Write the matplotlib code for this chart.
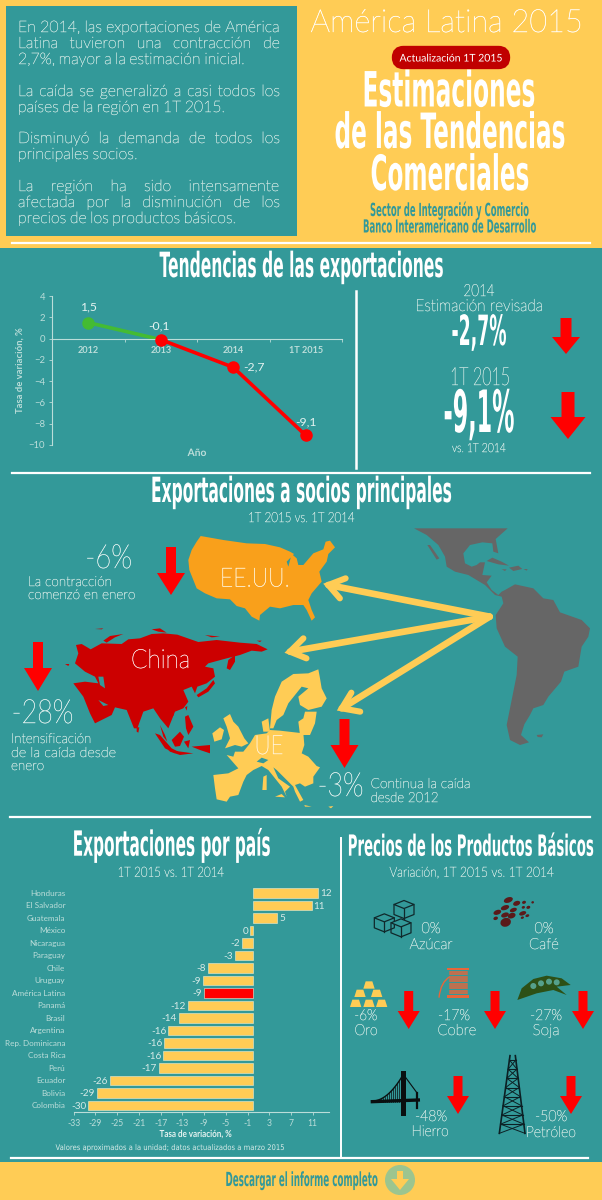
import numpy as np
import matplotlib
matplotlib.use("Agg")
import matplotlib.pyplot as plt
import matplotlib.patheffects as pe
from matplotlib.patches import Polygon, Ellipse, Circle, Rectangle, FancyBboxPatch
from matplotlib.path import Path
from matplotlib.patches import PathPatch
from matplotlib.transforms import Affine2D

YELLOW = "#FFCC55"
TEAL = "#339999"
PALE = "#BBDDD9"
RED = "#FF0000"

# line chart data
trend_labels = ["2012", "2013", "2014", "1T 2015"]
trend_values = [1.5, -0.1, -2.7, -9.1]
trend_text = ["1,5", "-0,1", "-2,7", "-9,1"]

# bars, exports by country
countries = ["Honduras", "El Salvador", "Guatemala", "México", "Nicaragua", "Paraguay", "Chile",
             "Uruguay", "América Latina", "Panamá", "Brasil", "Argentina", "Rep. Dominicana",
             "Costa Rica", "Perú", "Ecuador", "Bolivia", "Colombia"]
country_values = [12, 10.8, 4.5, -0.5, -2, -3.3, -8.3, -9.2, -9.1, -11.9, -13.7, -15.6, -16.3,
                  -16.5, -17.3, -26.3, -28.7, -30.3]
country_text = ["12", "11", "5", "0", "-2", "-3", "-8", "-9", "-9", "-12", "-14", "-16", "-16",
                "-16", "-17", "-26", "-29", "-30"]
bar_ticks = list(range(-33, 12, 4))

body_lines = [
    ("En 2014, las exportaciones de América", 27, True),
    ("Latina tuvieron una contracción de", 43, True),
    ("2,7%, mayor a la estimación inicial.", 59, False),
    ("La caída se generalizó a casi todos los", 91, True),
    ("países de la región en 1T 2015.", 107, False),
    ("Disminuyó la demanda de todos los", 138, True),
    ("principales socios.", 154, False),
    ("La región ha sido intensamente", 186, True),
    ("afectada por la disminución de los", 202, True),
    ("precios de los productos básicos.", 218, False),
]

fig = plt.figure(figsize=(6.02, 12), dpi=100, facecolor=TEAL)
ax = fig.add_axes([0, 0, 1, 1])
ax.set_xlim(0, 602)
ax.set_ylim(1200, 0)
ax.axis("off")
renderer = fig.canvas.get_renderer()


class Stretch(pe.AbstractPathEffect):
    # the reference uses a condensed poster font, so the text is set small and pulled up
    def __init__(self, sy, stroke=0):
        super().__init__()
        self.sy = sy
        self.stroke = stroke

    def draw_path(self, renderer, gc, tpath, affine, rgbFace=None):
        if self.stroke:
            gc.set_foreground(rgbFace)
            gc.set_linewidth(self.stroke)
        renderer.draw_path(gc, tpath, Affine2D().scale(1, self.sy) + affine, rgbFace)


def put(x, y, s, size, width=None, color=PALE, font="Lato", weight="light", ha="center", zorder=6):
    t = ax.text(x, y, s, fontsize=size, color=color, family=font, weight=weight,
                ha="left", va="baseline", zorder=zorder)
    w = t.get_window_extent(renderer).width
    target = width if width else w
    t.set_fontsize(size * target / w)
    t.set_path_effects([Stretch(w / target, 0.28 if weight == "light" else 0)])
    t.set_x(x - target / 2 if ha == "center" else x)
    return t


def title(x, y, s, size, width, color="white"):
    return put(x, y, s, size, width, color, "Liberation Sans Narrow", "bold")


def red_arrow(x, top, neck, tip, shaft, head):
    pts = [(x - shaft / 2, top), (x + shaft / 2, top), (x + shaft / 2, neck), (x + head / 2, neck),
           (x, tip), (x - head / 2, neck), (x - shaft / 2, neck)]
    ax.add_patch(Polygon(pts, closed=True, fc=RED, ec="none", zorder=5))


def m3(pts):
    return [(a / 2.604, 470 + b / 3) for a, b in pts]


def z5(pts):
    return [(340 + a / 3, 825 + b / 3) for a, b in pts]


def shape(ox, oy, pts, color, z=3):
    # outlines were traced on 3x crops, ox/oy is the crop corner
    ax.add_patch(Polygon([(ox + a / 3, oy + b / 3) for a, b in pts], closed=True, fc=color, ec="none", zorder=z))


# backgrounds
ax.add_patch(Rectangle((0, 0), 602, 248, fc=YELLOW, ec="none"))
ax.add_patch(Rectangle((0, 1162), 602, 38, fc=YELLOW, ec="none"))
ax.add_patch(Rectangle((6, 6), 291, 230, fc=TEAL, ec="none"))
for x0, x1, y in [(12, 590, 243), (12, 590, 473), (10, 590, 817), (11, 588, 1158)]:
    ax.plot([x0, x1], [y, y], color="white", lw=1.6, zorder=2)
ax.plot([356, 356], [291, 468], color="white", lw=1.8, zorder=2)
ax.plot([341, 341], [838, 1158], color="white", lw=1.4, zorder=2)

# header, left box is justified so words go out one by one
for line, y, just in body_lines:
    words = line.split(" ")
    items = [put(0, y + 5, w, 11.4, ha="left") for w in words]
    widths = [i.get_window_extent(renderer).width for i in items]
    space = (262 - sum(widths)) / (len(words) - 1) if just else 3.4
    x = 18
    for i, w in zip(items, widths):
        i.set_x(x)
        x += w + space

put(447, 32, "América Latina 2015", 23, 273, "white")
ax.add_patch(FancyBboxPatch((396, 50), 110, 15, boxstyle="round,pad=0,rounding_size=7.5",
                            mutation_aspect=1, fc="#C00000", ec="#C00000", lw=6, zorder=3))
put(451, 61.5, "Actualización 1T 2015", 7.6, 103, "white", "Lato", "normal")
title(449, 106.5, "Estimaciones", 35, 173)
title(450, 148, "de las Tendencias", 35, 231)
title(450, 190, "Comerciales", 35, 159)
title(449, 216, "Sector de Integración y Comercio", 13, 158, TEAL)
title(449, 232.5, "Banco Interamericano de Desarrollo", 13, 172, TEAL)

# trend panel
title(301.5, 277, "Tendencias de las exportaciones", 25, 284)
ax1 = fig.add_axes([52 / 602, 1 - 445 / 1200, 290 / 602, 149 / 1200])
ax1.patch.set_alpha(0)
# setting the spine position resets ticks, so it goes first
ax1.spines["bottom"].set_position(("data", 0))
ax1.spines["bottom"].set_color(PALE)
ax1.spines["left"].set_color(PALE)
ax1.spines["top"].set_visible(False)
ax1.spines["right"].set_visible(False)
xs = np.arange(len(trend_values))
ax1.plot(xs[:2], trend_values[:2], color="#44BB33", lw=2.6, zorder=2)
ax1.plot(xs[1:], trend_values[1:], color=RED, lw=2.6, zorder=3)
ax1.plot(xs[:1], trend_values[:1], "o", color="#44BB33", ms=8, zorder=4)
ax1.plot(xs[1:], trend_values[1:], "o", color=RED, ms=8, zorder=4)
ax1.set_xlim(-0.5, 3.5)
ax1.set_ylim(-10, 4)
ax1.set_yticks(range(-10, 5, 2))
ax1.set_xticks(xs)
ax1.set_xticklabels(trend_labels)
ax1.set_xticks(np.arange(-0.5, 3.6, 1), minor=True)
ax1.tick_params(axis="x", which="major", length=0, pad=5)
ax1.tick_params(axis="x", which="minor", length=2, color=PALE, direction="out", width=0.6)
ax1.tick_params(axis="y", length=2, color=PALE, width=0.6, pad=3)
for lab in ax1.get_xticklabels():
    lab.set(fontsize=6.6, color=PALE, family="Lato", weight="bold")
for lab in ax1.get_yticklabels():
    lab.set(fontsize=6.8, color=PALE, family="Lato")
for i, off in enumerate([(0, 11), (-1, 10), (15, 0), (0, 10)]):
    ax1.annotate(trend_text[i], (xs[i], trend_values[i]), xytext=off, textcoords="offset points",
                 ha="center", va="center", fontsize=8.8, color="#E4F2F0", family="Lato")
put(197, 456, "Año", 7.4, None, PALE, "Lato", "bold")
ax.text(20, 370, "Tasa de variación, %", rotation=90, ha="center", va="center", fontsize=6.8,
        color=PALE, family="Lato", weight="bold")

put(479, 296, "2014", 12, 31)
put(479, 311, "Estimación revisada", 12, 127)
title(479, 345, "-2,7%", 30, 55)
red_arrow(566, 318, 337, 354, 11, 28)
put(480, 385, "1T 2015", 18, 60)
title(479, 432, "-9,1%", 42, 71)
put(479, 452, "vs. 1T 2014", 9, 54)
red_arrow(568, 392, 417, 439, 13, 35)

# partners panel
title(301.5, 502, "Exportaciones a socios principales", 25, 301)
put(301.5, 522, "1T 2015 vs. 1T 2014", 10, 107)

usa = [(62, 18), (130, 30), (200, 40), (255, 42), (300, 52), (330, 65), (342, 72), (320, 95), (325, 110), (335, 72),
       (350, 85), (355, 105), (370, 105), (400, 70), (430, 58), (437, 35), (450, 32), (465, 52), (445, 72), (440, 95),
       (418, 125), (425, 155), (395, 190), (385, 210), (395, 240), (405, 262), (395, 272), (380, 240), (370, 225),
       (340, 225), (300, 235), (270, 230), (240, 255), (238, 272), (215, 260), (195, 235), (170, 228), (150, 208),
       (110, 205), (75, 190), (50, 175), (40, 150), (28, 120), (25, 90), (35, 60), (50, 35)]
shape(180, 530, usa, "#F9A01B")

asia = [(48, 75), (65, 72), (92, 88), (125, 70), (185, 72), (205, 58), (240, 55), (275, 42), (310, 40), (352, 44),
        (415, 66), (470, 60), (540, 68), (590, 72), (623, 88), (605, 95), (575, 92), (540, 105), (500, 115), (445, 130),
        (435, 140), (460, 145), (465, 170), (440, 190), (412, 200), (405, 220), (395, 200), (370, 210), (385, 245),
        (370, 265), (345, 275), (335, 300), (325, 325), (300, 295), (280, 265), (250, 275), (232, 325), (222, 325),
        (200, 270), (165, 262), (155, 285), (105, 310), (90, 280), (70, 230), (40, 190), (75, 185), (115, 190),
        (105, 170), (75, 155), (45, 130), (55, 100)]
shape(60, 620, asia, "#CC0000")
asia_islands = [[(410, 225), (440, 205), (460, 180), (465, 190), (445, 215), (415, 232)],
                [(500, 145), (505, 120), (525, 105), (525, 125), (510, 150)],
                [(130, 62), (150, 48), (190, 42), (165, 52), (140, 68)], [(105, 27), (130, 25), (125, 28)],
                [(435, 45), (480, 50), (455, 52)], [(275, 28), (300, 25), (320, 38), (295, 35)],
                [(15, 132), (28, 132), (25, 138)], [(590, 62), (605, 62), (600, 66)],
                [(300, 315), (310, 350), (322, 365), (315, 345)],
                [(285, 340), (300, 345), (335, 385), (355, 395), (345, 400), (315, 385)],
                [(335, 360), (360, 335), (372, 350), (360, 378), (345, 380)],
                [(325, 390), (400, 400), (360, 405), (330, 395)], [(372, 365), (390, 360), (385, 385)],
                [(395, 380), (450, 375), (450, 400), (420, 390)],
                [(375, 290), (385, 285), (400, 320), (385, 345), (378, 325)],
                [(375, 262), (382, 258), (380, 272)], [(335, 282), (342, 280), (340, 288)],
                [(230, 322), (238, 322), (235, 338), (230, 335)]]
for isl in asia_islands:
    shape(60, 620, isl, "#CC0000")
shape(60, 620, [(115, 170), (130, 170), (135, 205), (120, 195)], TEAL, 3.5)
shape(60, 620, [(115, 240), (145, 255), (130, 258)], TEAL, 3.5)

europe = [(25, 255), (70, 250), (100, 235), (65, 195), (85, 200), (90, 185), (115, 185), (135, 160), (150, 135),
          (185, 130), (195, 120), (225, 122), (295, 130), (298, 165), (290, 190), (310, 200), (335, 228), (345, 232),
          (325, 260), (325, 280), (300, 290), (285, 280), (270, 285), (295, 330), (285, 335), (270, 305), (265, 290),
          (245, 270), (215, 240), (205, 232), (220, 265), (255, 290), (240, 305), (245, 320), (230, 290), (210, 265),
          (190, 240), (170, 228), (145, 240), (125, 255), (115, 275), (100, 315), (75, 320), (65, 335), (35, 328),
          (30, 295)]
shape(205, 690, europe, YELLOW)
shape(205, 690, [(155, 215), (170, 203), (190, 210), (175, 220)], TEAL, 3.5)
europe_parts = [[(170, 95), (190, 85), (195, 125), (175, 125)],
                [(55, 85), (75, 72), (85, 95), (100, 110), (118, 145), (130, 160), (110, 170), (90, 165), (60, 175),
                 (75, 145), (65, 110)],
                [(22, 130), (45, 112), (57, 120), (50, 148), (28, 155)],
                [(175, 260), (185, 255), (185, 300), (172, 300)], [(210, 320), (230, 312), (240, 322)],
                [(298, 345), (320, 350), (300, 350)], [(370, 350), (385, 348), (378, 355)]]
for part in europe_parts:
    shape(205, 690, part, YELLOW)
nordic = [(15, 205), (20, 150), (30, 110), (50, 65), (85, 42), (130, 40), (160, 28), (165, 55), (170, 85), (185, 115),
          (170, 140), (130, 150), (105, 135), (100, 110), (130, 85), (110, 80), (90, 105), (70, 130), (55, 165),
          (35, 180), (25, 205)]
baltic = [(100, 185), (115, 175), (120, 155), (155, 155), (150, 190), (135, 225), (105, 225)]
shape(265, 660, nordic, YELLOW)
shape(265, 660, baltic, YELLOW)

latam = [(27, 10), (308, 10), (272, 42), (280, 85), (265, 80), (262, 55), (232, 52), (195, 60), (175, 85), (180, 115),
         (200, 125), (215, 120), (225, 112), (240, 112), (232, 150), (260, 152), (245, 172), (260, 195), (280, 210),
         (290, 200), (300, 195), (330, 178), (385, 190), (415, 220), (445, 225), (465, 262), (530, 285), (555, 310),
         (550, 335), (530, 365), (520, 425), (478, 440), (468, 470), (430, 515), (415, 540), (385, 550), (375, 570),
         (358, 598), (348, 630), (372, 652), (345, 660), (315, 645), (305, 600), (320, 525), (335, 450), (338, 395),
         (300, 365), (275, 310), (272, 270), (295, 235), (290, 215), (270, 210), (240, 180), (190, 150), (150, 140),
         (125, 125), (120, 95), (100, 60), (65, 30)]
shape(405, 525, latam, "#666666")
latam_parts = [[(67, 60), (75, 60), (103, 100), (95, 104)], [(245, 108), (262, 98), (290, 110), (312, 122), (280, 118)],
               [(312, 128), (340, 122), (352, 132), (325, 138)], [(290, 133), (305, 133), (300, 138)],
               [(355, 132), (368, 132), (365, 137)], [(395, 630), (415, 628), (410, 637), (398, 636)]]
for part in latam_parts:
    shape(405, 525, part, "#666666")

# yellow arrows leaving south america
origin = (1275, 440)
heads = [((855, 345), (900, 325), (885, 385)),
         ((755, 545), (790, 505), (798, 565)),
         ((890, 715), (915, 668), (938, 725))]
for tip, arm_a, arm_b in heads:
    line = m3([origin, tip])
    ax.plot(*zip(*line), color=YELLOW, lw=4.8, solid_capstyle="round", zorder=4)
    chev = m3([arm_a, tip, arm_b])
    ax.plot(*zip(*chev), color=YELLOW, lw=4.4, solid_capstyle="round", solid_joinstyle="miter", zorder=4)

put(255, 586.5, "EE.UU.", 19, 70, "#FFF3D8", zorder=7)
put(160.5, 668, "China", 19, 59, "#FBE4E4", zorder=7)
put(269, 754, "UE", 19, 29, "#FFF3D8", zorder=7)
put(108.7, 568, "-6%", 24, 47, "#E0F0EE")
put(28, 586, "La contracción", 10, 84, ha="left")
put(28, 599, "comenzó en enero", 10, 107, ha="left")
red_arrow(171, 547, 573, 595, 10, 28)
red_arrow(38, 642, 668, 691, 10, 28)
put(42.6, 723, "-28%", 24, 62, "#E0F0EE")
put(11, 743, "Intensificación", 10, 80, ha="left")
put(11, 757, "de la caída desde", 10, 105, ha="left")
put(11, 770, "enero", 10, 33, ha="left")
red_arrow(344.5, 719, 745, 768, 10, 28)
put(340.6, 796, "-3%", 24, 46, "#E0F0EE")
put(370.6, 788, "Continua la caída", 10, 100, ha="left")
put(370.6, 802, "desde 2012", 10, 68, ha="left")

# bars by country
title(171.7, 855.7, "Exportaciones por país", 25, 198)
put(171, 876.7, "1T 2015 vs. 1T 2014", 10, 107)
ax2 = fig.add_axes([73.7 / 602, 1 - 1111.7 / 1200, 255.3 / 602, 225 / 1200])
ax2.patch.set_alpha(0)
ys = np.arange(len(countries))
colors = [RED if c == "América Latina" else YELLOW for c in countries]
ax2.barh(ys, country_values, height=0.76, color=colors, edgecolor="#E8EFD8", linewidth=0.4)
ax2.set_xlim(-33, 14)
ax2.set_ylim(17.5, -0.5)
ax2.set_yticks(ys)
ax2.set_yticklabels(countries, fontsize=5.9, color=PALE, family="Lato")
ax2.set_xticks(bar_ticks)
ax2.set_xticklabels(bar_ticks, fontsize=6.2, color=PALE, family="Lato")
ax2.tick_params(axis="y", length=0, pad=6)
ax2.tick_params(axis="x", length=2, color=PALE, width=0.6, pad=3)
for s in ["top", "right", "left"]:
    ax2.spines[s].set_visible(False)
ax2.spines["bottom"].set_color(PALE)
for y, v, lab in zip(ys, country_values, country_text):
    ax2.annotate(lab, (v, y), xytext=(1.5 if v > 0 else -1.5, -0.5), textcoords="offset points",
                 ha="left" if v > 0 else "right", va="center", fontsize=7.2, color="#D5EAE7", family="Lato")
put(196, 1137, "Tasa de variación, %", 7, 73, "#E4F2F0", "Lato", "bold")
put(171, 1150, "Valores aproximados a la unidad; datos actualizados a marzo 2015", 5.6, 231, "#D5EAE7", "DejaVu Sans", "normal")

# commodities
title(470.7, 855.7, "Precios de los Productos Básicos", 21, 246)
put(472, 876.7, "Variación, 1T 2015 vs. 1T 2014", 10, 165)
put(431, 933, "0%", 11, 19)
put(431, 949, "Azúcar", 11, 43)
put(544, 933, "0%", 11, 19)
put(544, 949, "Café", 11, 30)
put(365.7, 1020, "-6%", 11, 23)
put(366, 1035, "Oro", 11, 23)
put(454, 1020, "-17%", 11, 32)
put(457, 1035, "Cobre", 11, 39)
put(546, 1020, "-27%", 11, 32)
put(546, 1035, "Soja", 11, 27)
put(431, 1121, "-48%", 11, 32)
put(430, 1136, "Hierro", 11, 37)
put(551, 1121, "-50%", 11, 32)
put(551, 1137, "Petróleo", 11, 50)
for x in (408.7, 495, 583):
    red_arrow(x, 991, 1011, 1029, 9, 22)
for x in (458, 571):
    red_arrow(x, 1076, 1096, 1114, 9, 22)

# icons, sugar cubes
for cx, cy, s in [(192, 255, 30), (133, 295, 30), (183, 310, 30)]:
    top = [(cx - s, cy - s * 0.55), (cx, cy - s * 0.95), (cx + s, cy - s * 0.55), (cx, cy - s * 0.15)]
    box = [(cx - s, cy - s * 0.55), (cx - s, cy + s * 0.45), (cx, cy + s * 0.85), (cx + s, cy + s * 0.45),
           (cx + s, cy - s * 0.55)]
    ax.add_patch(Polygon(z5(top), closed=True, fc=TEAL, ec="#10282B", lw=0.9, zorder=4))
    ax.plot(*zip(*z5(box)), color="#10282B", lw=0.9, zorder=4)
    ax.plot(*zip(*z5([(cx, cy - s * 0.15), (cx, cy + s * 0.85)])), color="#10282B", lw=0.9, zorder=4)

# coffee
beans = [(505, 225, 28, 16), (530, 235, 22, 14), (495, 248, 26, 14), (472, 262, 24, 14), (520, 255, 22, 12),
         (495, 270, 24, 14), (515, 272, 24, 16), (497, 292, 32, 26), (467, 280, 14, 10), (552, 232, 12, 9),
         (578, 232, 8, 7), (565, 247, 12, 9), (550, 247, 10, 8), (548, 265, 22, 12), (562, 272, 12, 8),
         (547, 278, 10, 7)]
for bx, by, bw, bh in beans:
    (px, py), = z5([(bx, by)])
    ax.add_patch(Ellipse((px, py), bw / 3, bh / 3, angle=-20, fc="#5A1A1A", ec="none", zorder=4))

# gold bars
for gx, gy in [(87, 480), (60, 505), (110, 505), (47, 535), (87, 535), (125, 535)]:
    ax.add_patch(Polygon(z5([(gx - 17, gy + 11), (gx - 10, gy - 11), (gx + 10, gy - 11), (gx + 17, gy + 11)]),
                         closed=True, fc=YELLOW, ec="none", zorder=4))

# copper spool
ax.add_patch(Polygon(z5([(322, 428), (388, 428), (388, 435), (322, 435)]), fc="#E8663A", ec="none", zorder=4))
ax.add_patch(Polygon(z5([(322, 510), (388, 510), (388, 520), (322, 520)]), fc="#E8663A", ec="none", zorder=4))
for sy in range(441, 508, 7):
    ax.plot(*zip(*z5([(330, sy), (382, sy)])), color="#E8663A", lw=1.1, zorder=4)
thread = z5([(297, 518), (302, 470), (330, 455)])
ax.add_patch(PathPatch(Path(thread, [Path.MOVETO, Path.CURVE3, Path.CURVE3]), fc="none", ec="#E8663A", lw=1, zorder=4))

# soy pod
pod = [(532, 525), (545, 490), (580, 462), (620, 452), (665, 460), (692, 480), (650, 485), (680, 510), (640, 495), (590, 505)]
ax.add_patch(Polygon(z5(pod), closed=True, fc="#2D5016", ec="none", zorder=4))
for sx, sy in [(580, 483), (603, 475), (627, 470), (650, 472)]:
    (px, py), = z5([(sx, sy)])
    ax.add_patch(Circle((px, py), 3.0, fc="#55A08B", ec="none", zorder=5))

# bridge
ax.plot(*zip(*z5([(97, 830), (235, 825)])), color="#0A0F10", lw=2.4, zorder=4)
ax.plot(*zip(*z5([(190, 745), (190, 865)])), color="#0A0F10", lw=3.6, zorder=4)
ax.plot(*zip(*z5([(232, 805), (232, 850)])), color="#0A0F10", lw=1.6, zorder=4)
cable_x = np.linspace(97, 190, 16)
cable_y = 828 - 80 * ((cable_x - 97) / 93) ** 2
ax.plot(*zip(*z5(list(zip(cable_x, cable_y)))), color="#0A0F10", lw=1, zorder=4)
for cx, cy in zip(cable_x, cable_y):
    ax.plot(*zip(*z5([(cx, cy), (cx, 830)])), color="#0A0F10", lw=0.5, zorder=4)
ax.plot(*zip(*z5([(190, 748), (232, 805)])), color="#0A0F10", lw=0.8, zorder=4)

# oil tower
ax.plot(*zip(*z5([(510, 692), (478, 925)])), color="#0C2024", lw=1.2, zorder=4)
ax.plot(*zip(*z5([(526, 692), (555, 925)])), color="#0C2024", lw=1.2, zorder=4)
rungs = np.linspace(705, 925, 9)
lefts = 510 - (rungs - 692) * 32 / 233
rights = 526 + (rungs - 692) * 29 / 233
for i in range(len(rungs) - 1):
    ax.plot(*zip(*z5([(lefts[i], rungs[i]), (rights[i], rungs[i])])), color="#0C2024", lw=0.8, zorder=4)
    ax.plot(*zip(*z5([(lefts[i], rungs[i]), (rights[i + 1], rungs[i + 1])])), color="#0C2024", lw=0.7, zorder=4)
    ax.plot(*zip(*z5([(rights[i], rungs[i]), (lefts[i + 1], rungs[i + 1])])), color="#0C2024", lw=0.7, zorder=4)

# footer
title(302, 1186, "Descargar el informe completo", 14, 153, TEAL)
ax.add_patch(Circle((400, 1180), 15, fc="#9CC58F", ec="none", zorder=4))
ax.add_patch(Polygon([(397, 1171), (403, 1171), (403, 1179), (409, 1179), (400, 1190), (391, 1179), (397, 1179)],
                     closed=True, fc=YELLOW, ec="none", zorder=5))

fig.savefig("out.png", dpi=100, facecolor=TEAL)
